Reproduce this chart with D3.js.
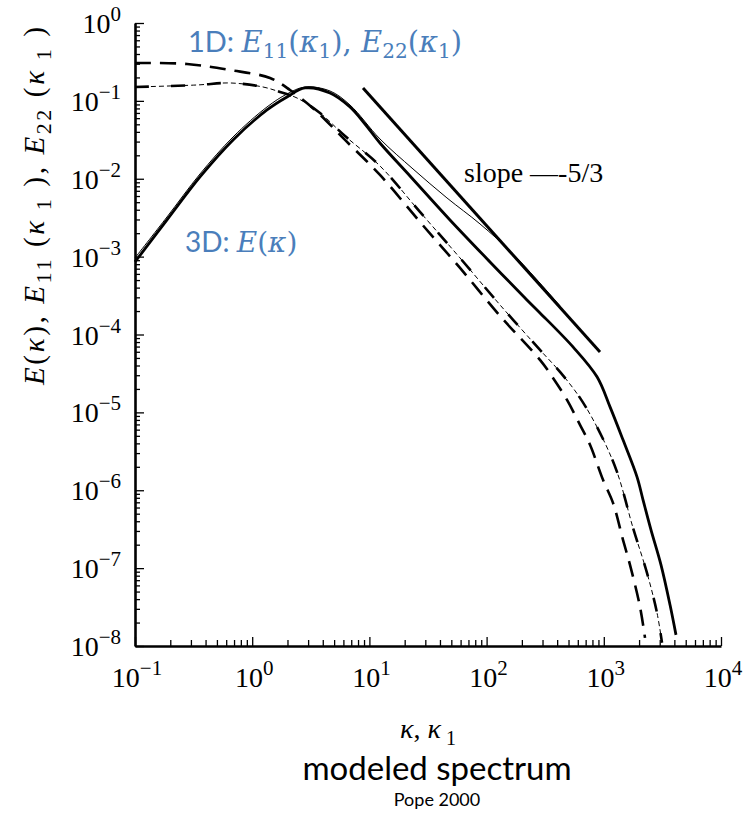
<!DOCTYPE html>
<html>
<head>
<meta charset="utf-8">
<script src="https://cdn.jsdelivr.net/npm/d3@7"></script>
<style>
  body { margin: 0; background: #fff; }
</style>
</head>
<body>
<div id="container"></div>
<script>
// 3D spectrum E(kappa), thick solid line
const specK = [0.1, 0.1875, 0.3585, 0.686, 1.337, 1.981, 2.82, 4.61, 6.83, 9.17, 12.31, 22.2, 48.7, 106.9, 221, 285.5, 545.8, 875, 1130, 1458, 1920, 2161, 2527, 3076, 3672, 4130];
const specE = [8.55e-4, 2.96e-3, 1.055e-2, 0.0315, 0.0764, 0.1122, 0.1464, 0.1263, 0.0835, 0.0505, 0.0288, 0.01086, 2.96e-3, 8.55e-4, 2.78e-4, 1.894e-4, 6.93e-5, 2.86e-5, 1.177e-5, 4.44e-6, 1.486e-6, 7.53e-7, 3.10e-7, 1.10e-7, 3.38e-8, 1.39e-8];

// thin solid companion line
const thinK = [0.1, 0.1875, 0.3585, 0.686, 1.337, 1.981, 2.82, 4.61, 6.83, 12.31, 23.55, 45.9, 87.8, 168, 423];
const thinE = [9.62e-4, 3.23e-3, 0.01152, 0.0344, 0.0835, 0.1226, 0.1508, 0.134, 0.0886, 0.03243, 0.01336, 5.67e-3, 2.63e-3, 1.083e-3, 2.33e-4];

// 1D spectra
const e11K = [0.1, 0.278, 0.6465, 1.419, 2.101, 3.435, 6.193, 12.31, 27.0, 59.3, 130.1, 285.5, 368.7, 485.3, 626.6, 762.6, 984.5, 1198, 1458, 1673, 2037, 2247];
const e11E = [0.3065, 0.2976, 0.2492, 0.1968, 0.138, 0.0764, 0.0315, 0.01119, 2.79e-3, 7.16e-4, 1.733e-4, 4.72e-5, 2.77e-5, 1.447e-5, 6.91e-6, 3.83e-6, 1.36e-6, 6.89e-7, 2.31e-7, 1.10e-7, 3.19e-8, 1.27e-8];

const e22K = [0.1, 0.338, 0.6465, 1.236, 1.727, 2.412, 3.79, 6.193, 12.31, 27.0, 59.3, 130.1, 285.5, 423, 626.6, 928, 1296, 1775, 2336, 2844, 3138];
const e22E = [0.1508, 0.160, 0.1698, 0.1508, 0.1301, 0.1089, 0.0699, 0.0354, 0.0146, 3.75e-3, 9.62e-4, 2.40e-4, 6.34e-5, 3.31e-5, 1.535e-5, 5.46e-6, 1.72e-6, 3.29e-7, 8.7e-8, 2.67e-8, 1.1e-8];

// -5/3 reference line
const slopeK = [8.82, 928];
const slopeE = [0.1464, 5.98e-5];

const xDomain = [0.1, 1e4];
const yDomain = [1e-8, 1];

const serif = '"Liberation Serif", "Times New Roman", Times, serif';
const mathFont = '"DejaVu Serif", serif';
const sans = 'Lato, "Open Sans", sans-serif';
const blue = '#4a7ebb';

const svg = d3.select('#container')
    .append('svg')
    .attr('width', 756)
    .attr('height', 816);

const x = d3.scaleLog().domain(xDomain).range([135, 721]);
const y = d3.scaleLog().domain(yDomain).range([646, 23]);

const isMajor = (d) => Math.abs(Math.log10(d) - Math.round(Math.log10(d))) < 1e-6;

// axes: ticks point inward
const yAxis = d3.axisLeft(y)
    .tickValues(y.ticks())
    .tickSizeInner(-5)
    .tickSizeOuter(0)
    .tickFormat('');
const xAxis = d3.axisBottom(x)
    .tickValues(x.ticks())
    .tickSizeInner(-5)
    .tickSizeOuter(0)
    .tickFormat('');

const gy = svg.append('g')
    .attr('transform', 'translate(' + 135 + ',0)')
    .call(yAxis);
gy.selectAll('.tick line')
    .attr('x2', (d) => isMajor(d) ? 9 : 5)
    .attr('stroke-width', 1.3);
gy.select('.domain').attr('stroke-width', 2.6);

const gx = svg.append('g')
    .attr('transform', 'translate(0,' + 646 + ')')
    .call(xAxis);
gx.selectAll('.tick line')
    .attr('y2', (d) => isMajor(d) ? -9 : -6)
    .attr('stroke-width', 1.3);
gx.select('.domain').attr('stroke-width', 2.6);

// tick labels as 10 with superscript
const expText = (d) => {
    const e = Math.round(Math.log10(d));
    return e < 0 ? '\u2212' + (-e) : String(e);
};

svg.append('g').selectAll('text')
    .data(y.ticks().filter(isMajor))
    .enter()
    .append('text')
    .attr('x', 121)
    .attr('y', (d) => y(d) + 10)
    .attr('text-anchor', 'end')
    .style('font-family', serif)
    .style('font-size', '28px')
    .each(function (d) {
        const t = d3.select(this);
        t.append('tspan').text('10');
        t.append('tspan').attr('dy', -12).style('font-size', '21px').text(expText(d));
    });

svg.append('g').selectAll('text')
    .data(x.ticks().filter(isMajor))
    .enter()
    .append('text')
    .attr('x', (d) => x(d) + 2)
    .attr('y', 687)
    .attr('text-anchor', 'middle')
    .style('font-family', serif)
    .style('font-size', '28px')
    .each(function (d) {
        const t = d3.select(this);
        t.append('tspan').text('10');
        t.append('tspan').attr('dy', -12).style('font-size', '21px').text(expText(d));
    });

// rich text helper: parts = [{t, it, sub, font}]
function rich(sel, parts, baseSize, subSize, subDrop) {
    let cur = 0;
    parts.forEach((p) => {
        const target = p.sub ? subDrop : 0;
        const ts = sel.append('tspan')
            .attr('dy', target - cur)
            .style('font-size', (p.sub ? subSize : baseSize) + 'px')
            .text(p.t);
        if (p.it) ts.style('font-style', 'italic');
        if (p.font) ts.style('font-family', p.font);
        cur = target;
    });
}

// curves
const line = d3.line()
    .x((d) => x(d[0]))
    .y((d) => y(d[1]))
    .curve(d3.curveCatmullRom.alpha(0.5));

const plot = svg.append('g').attr('fill', 'none').attr('stroke', '#000');

plot.append('path')
    .datum(d3.zip(thinK, thinE))
    .attr('stroke-width', 1)
    .attr('d', line);

plot.append('path')
    .datum(d3.zip(specK, specE))
    .attr('stroke-width', 2.8)
    .attr('d', line);

plot.append('path')
    .datum(d3.zip(slopeK, slopeE))
    .attr('stroke-width', 3)
    .attr('d', line);

// E22: dash-dot (thin dots under thick dashes)
plot.append('path')
    .datum(d3.zip(e22K, e22E))
    .attr('stroke-width', 1)
    .attr('stroke-dasharray', '5,3')
    .attr('d', line);
plot.append('path')
    .datum(d3.zip(e22K, e22E))
    .attr('stroke-width', 2.6)
    .attr('stroke-dasharray', '14,22')
    .attr('d', line);

// E11: dashed
plot.append('path')
    .datum(d3.zip(e11K, e11E))
    .attr('stroke-width', 2.6)
    .attr('stroke-dasharray', '16,9')
    .attr('d', line);

// axis titles
const yTitle = svg.append('text')
    .attr('transform', 'translate(' + 44 + ',' + 206 + ') rotate(-90)')
    .attr('text-anchor', 'middle')
    .attr('textLength', 358)
    .attr('lengthAdjust', 'spacing')
    .style('font-family', serif);
rich(yTitle, [
    { t: 'E', it: true }, { t: '(' }, { t: '\u03ba', it: true }, { t: '), ' },
    { t: 'E', it: true }, { t: '11', sub: true }, { t: ' (' }, { t: '\u03ba', it: true }, { t: ' 1', sub: true }, { t: ' ), ' },
    { t: 'E', it: true }, { t: '22', sub: true }, { t: ' (' }, { t: '\u03ba', it: true }, { t: ' 1', sub: true }, { t: ' )' }
], 29, 22, 7);

const xTitle = svg.append('text')
    .attr('x', 428)
    .attr('y', 738)
    .attr('text-anchor', 'middle')
    .style('font-family', serif);
rich(xTitle, [
    { t: '\u03ba', it: true }, { t: ', ' }, { t: '\u03ba', it: true }, { t: ' 1', sub: true }
], 28, 20, 7);

svg.append('text')
    .attr('x', 437)
    .attr('y', 780)
    .attr('text-anchor', 'middle')
    .style('font-family', sans)
    .style('font-size', '33px')
    .text('modeled spectrum');

svg.append('text')
    .attr('x', 437)
    .attr('y', 806)
    .attr('text-anchor', 'middle')
    .style('font-family', sans)
    .style('font-size', '18px')
    .text('Pope 2000');

// annotations
svg.append('text')
    .attr('x', 464)
    .attr('y', 182)
    .style('font-family', serif)
    .style('font-size', '28px')
    .text('slope \u2014-5/3');

const ann1 = svg.append('text')
    .attr('x', 188)
    .attr('y', 52)
    .attr('fill', blue)
    .style('font-family', sans);
rich(ann1, [
    { t: '1D: ' },
    { t: 'E', it: true, font: mathFont }, { t: '11', sub: true, font: mathFont }, { t: '(', font: mathFont }, { t: '\u03ba', it: true, font: mathFont }, { t: '1', sub: true, font: mathFont }, { t: '), ', font: mathFont },
    { t: 'E', it: true, font: mathFont }, { t: '22', sub: true, font: mathFont }, { t: '(', font: mathFont }, { t: '\u03ba', it: true, font: mathFont }, { t: '1', sub: true, font: mathFont }, { t: ')', font: mathFont }
], 29, 20, 6);

const ann2 = svg.append('text')
    .attr('x', 185)
    .attr('y', 252)
    .attr('fill', blue)
    .style('font-family', sans);
rich(ann2, [
    { t: '3D: ' }, { t: 'E', it: true, font: mathFont }, { t: '(', font: mathFont }, { t: '\u03ba', it: true, font: mathFont }, { t: ')', font: mathFont }
], 28, 19, 6);
</script>
</body>
</html>
